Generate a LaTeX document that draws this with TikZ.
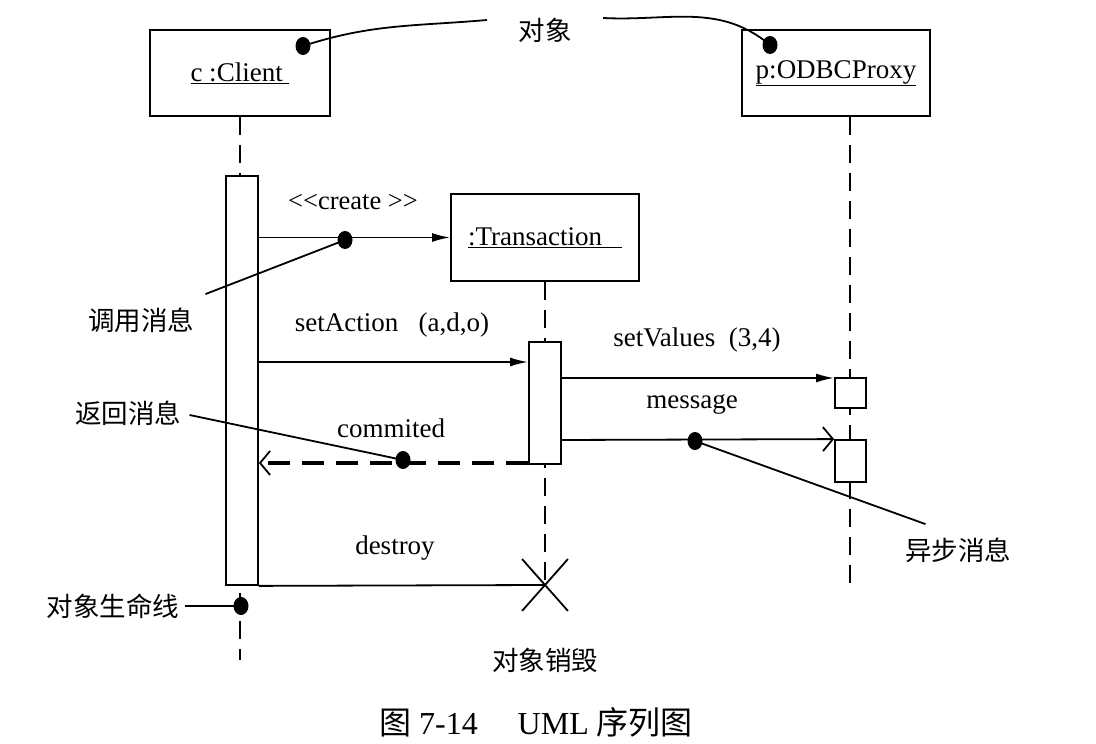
\documentclass[tikz,border=0pt]{standalone}
\usepackage{fontspec}
\setmainfont{Liberation Serif}
\newfontfamily\cjk{Noto Sans CJK SC}
\usepackage{tikz}
\usetikzlibrary{arrows.meta,shapes.misc,shapes.geometric,calc}

\begin{document}
\begin{tikzpicture}[x=1pt,y=1pt,
    obj/.style={draw,line width=1.8pt,minimum height=86pt,inner sep=0pt,
                font=\fontsize{27}{31}\selectfont},
    act/.style={draw,fill=white,line width=1.8pt,minimum width=32pt,inner sep=0pt},
    life/.style={line width=2.6pt,dash pattern=on 18pt off 10pt},
    call/.style={line width=1.8pt,-{Latex[length=18pt,width=9pt]}},
    async/.style={line width=1.8pt,-{Straight Barb[length=10pt,width=24pt,line width=1.8pt]}},
    ret/.style={line width=3.8pt,dash pattern=on 22pt off 12pt,
                -{Straight Barb[length=10pt,width=24pt,line width=1.8pt]}},
    dot/.style={ellipse,fill,inner sep=0pt,minimum width=15pt,minimum height=18pt},
    lead/.style={line width=1.8pt},
    lbl/.style={font=\fontsize{27}{31}\selectfont},
    zh/.style={font=\cjk\fontsize{26.5}{31}\selectfont}]
   \useasboundingbox (0,0) rectangle (1096,744);
   % objects
   \node[obj,minimum width=180pt] (client) at (240,671) {\underline{c :Client\ }};
   \node[obj,minimum width=188pt] (proxy)  at (836,671) {\underline{p:ODBCProxy}};
   \node[obj,minimum width=188pt,minimum height=87pt] (trans) at (545,506.5)
        {\underline{:Transaction\hspace{20pt}}};
   % lifelines
   \coordinate (cend) at (240,84);
   \coordinate (pend) at (850,159);
   \node[cross out,draw,line width=1.8pt,minimum width=44pt,minimum height=50pt,
         inner sep=0pt] (xmark) at (545,159) {};
   \draw[life] (client.south) -- (cend);
   \draw[life] (trans.south) -- (xmark.center);
   \draw[life] (proxy.south -| pend) -- (pend);
   % activations
   \node[act,minimum height=409pt] (cact) at (242,363.5) {};
   \node[act,minimum height=122pt] (tact) at (545,341) {};
   \node[act,minimum width=31pt,minimum height=30pt] (pact1) at (850.5,351) {};
   \node[act,minimum width=31pt,minimum height=42pt] (pact2) at (850.5,283) {};
   % message levels
   \coordinate (m_set)  at (0,382);
   \coordinate (m_val)  at (0,366);
   \coordinate (m_msg)  at (0,304);
   \coordinate (m_ret)  at (0,281);
   % messages
   \draw[call] (cact.east |- trans.west) -- (trans.west);
   \draw[call] (cact.east |- m_set) -- (tact.west |- m_set);
   \draw[call] (tact.east |- m_val) -- (pact1.west |- m_val);
   \draw[async] (tact.east |- m_msg) -- (pact2.north west);
   \draw[ret] (tact.west |- m_ret) -- (cact.east |- m_ret);
   \draw[lead] (cact.south east) -- (xmark.center);
   \node[lbl,font=\fontsize{26.5}{30}\selectfont] (lcreate) at (353,542)
        {{<}{<}create\ {>}{>}};
   \node[lbl] (lset)    at (392,419) {setAction\ \ \ (a,d,o)};
   \node[lbl] (lval)    at (697,404) {setValues\ \ (3,4)};
   \node[lbl] (lmsg)    at (692,340) {message};
   \node[lbl] (lret)    at (391,316) {commited};
   \node[lbl] (ldes)    at (395,196) {destroy};
   % annotations
   \node[zh] (zobj)  at (545,714) {对象};
   \node[zh] (zcall) at (141,424) {调用消息};
   \node[zh] (zret)  at (128,331) {返回消息};
   \node[zh] (zasy)  at (958,194) {异步消息};
   \node[zh] (zlife) at (113,138) {对象生命线};
   \node[zh] (zdes)  at (545,84)  {对象销毁};
   \node[dot] (d1) at (303,698) {};
   \node[dot] (d2) at (770,699) {};
   \node[dot] (d3) at (345,504) {};
   \node[dot] (d4) at (403,284) {};
   \node[dot] (d5) at (695,303) {};
   \node[dot] (d6) at (241,138) {};
   \draw[lead] (d1.center) to[out=18,in=185] ($(zobj.west)+(-28,10)$);
   \draw[lead] ($(zobj.east)+(28,12)$) to[out=-3,in=140] (d2.center);
   \draw[lead] (d3.center) -- ($(zcall.north east)+(8,10)$);
   \draw[lead] (d4.center) -- ($(zret.east)+(5,-2)$);
   \draw[lead] (d5.center) -- ($(zasy.north west)+(24,10)$);
   \draw[lead] (d6.center) -- ($(zlife.east)+(2,0)$);
   % caption
   \node[font=\fontsize{32}{36}\selectfont] (cap) at (536,22)
        {{\cjk 图} 7-14\quad\ UML {\cjk 序列图}};
\end{tikzpicture}
\end{document}
